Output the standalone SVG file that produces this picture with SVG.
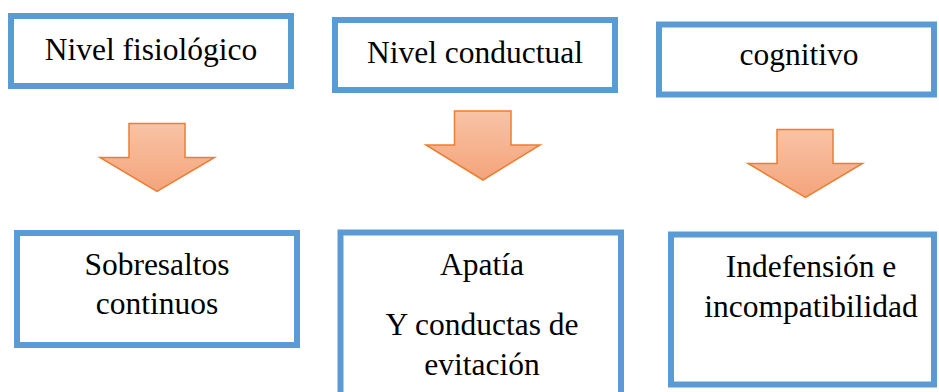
<svg xmlns="http://www.w3.org/2000/svg" width="939" height="392" viewBox="0 0 939 392">
<defs>
<linearGradient id="ag" x1="0" y1="0" x2="0" y2="1">
<stop offset="0" stop-color="#F8C3A6"/>
<stop offset="1" stop-color="#F4A47B"/>
</linearGradient>
<style>
.box{fill:#FFFFFF;stroke:#5B9BD5;stroke-width:6}
.t{font-size:31.5px;fill:#000;text-anchor:middle}
.arr{fill:url(#ag);stroke:#ED7D31;stroke-width:1.5;stroke-linejoin:miter}
</style>
</defs>
<rect width="939" height="392" fill="#FFFFFF"/>
<g font-family="'Liberation Serif', 'Times New Roman', 'DejaVu Serif', serif">
<g id="n1"><rect class="box" x="11" y="16" width="280" height="70"/><text class="t" x="151" y="60">Nivel fisiológico</text></g>
<g id="n2"><rect class="box" x="335" y="20" width="280" height="70"/><text class="t" x="475" y="63">Nivel conductual</text></g>
<g id="n3"><rect class="box" x="659" y="24.5" width="275" height="70"/><text class="t" x="799" y="65">cognitivo</text></g>
<g id="n4"><rect class="box" x="17" y="233" width="280" height="112"/><text class="t" x="157" y="275">Sobresaltos</text><text class="t" x="157" y="314">continuos</text></g>
<g id="n5"><rect class="box" x="340.5" y="232.5" width="280.5" height="175"/><text class="t" x="482" y="275">Apatía</text><text class="t" x="482" y="335">Y conductas de</text><text class="t" x="482" y="375">evitación</text></g>
<g id="n6"><rect class="box" x="671" y="234.5" width="263" height="150"/><text class="t" x="811" y="277">Indefensión e</text><text class="t" x="811" y="317">incompatibilidad</text></g>
</g>
<g id="connectors">
<polygon class="arr" points="129,123.5 185,123.5 185,157.5 214.5,157.5 157,191.5 100,157.5 129,157.5"/>
<polygon class="arr" points="454.5,111 511,111 511,145 540,145 483,180 426,145 454.5,145"/>
<polygon class="arr" points="777,129.5 833,129.5 833,163.5 862.5,163.5 805.5,197.5 748,163.5 777,163.5"/>
</g>
</svg>
